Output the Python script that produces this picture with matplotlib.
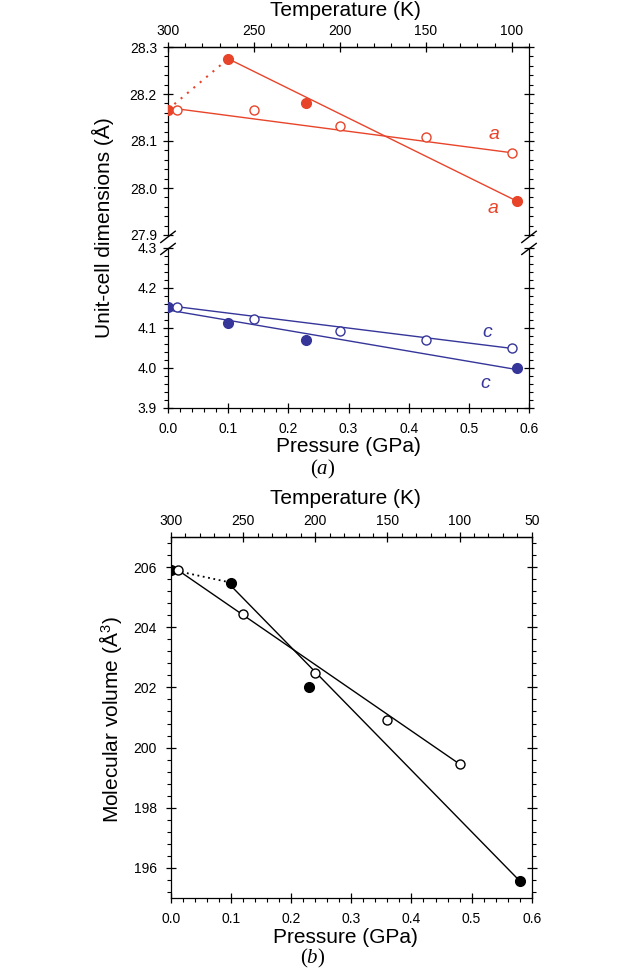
import matplotlib
matplotlib.use('Agg')
import matplotlib.pyplot as plt
from matplotlib.ticker import MultipleLocator, FormatStrFormatter

plt.rcParams['font.family'] = 'Liberation Sans'
plt.rcParams['mathtext.fontset'] = 'custom'
plt.rcParams['mathtext.rm'] = 'Liberation Sans'
plt.rcParams['mathtext.it'] = 'Liberation Serif:italic'

RED = '#E8442A'
BLUE = '#35359A'

# (a) unit-cell dimensions: filled = pressure runs, open = temperature runs
p_fill = [0.0, 0.10, 0.23, 0.58]
p_fill_err = [0.005, 0.005, 0.006, 0.006]
a_fill = [28.167, 28.275, 28.180, 27.972]
a_fill_err = [0.003, 0.003, 0.003, 0.003]
c_fill = [4.152, 4.112, 4.070, 3.999]
t_open = [295, 250, 200, 150, 100]
a_open = [28.167, 28.166, 28.132, 28.108, 28.075]
c_open = [4.153, 4.123, 4.093, 4.070, 4.049]
# straight lines through the data
a_fill_line_p = [0.10, 0.58]
a_fill_line = [28.275, 27.972]
c_fill_line_p = [0.0, 0.58]
c_fill_line = [4.145, 3.996]
open_line_t = [300, 100]
a_open_line = [28.171, 28.075]
c_open_line = [4.156, 4.049]

# (b) molecular volume
v_p_fill = [0.0, 0.10, 0.23, 0.58]
v_p_err = [0.006, 0.006, 0.006, 0.006]
v_fill = [205.92, 205.49, 202.01, 195.56]
v_fill_err = [0.08, 0.08, 0.08, 0.08]
v_t_open = [295, 250, 200, 150, 100]
v_open = [205.90, 204.45, 202.48, 200.92, 199.45]
v_fill_line_p = [0.10, 0.58]
v_fill_line = [205.38, 195.56]
v_open_line_t = [295, 100]
v_open_line = [205.90, 199.45]

W, H = 640, 968
fig = plt.figure(figsize=(W / 100, H / 100), dpi=100)


def style(ax, ypad=4.5, xpad=6.5):
    ax.tick_params(which='major', direction='inout', length=7, width=0.9,
                   labelsize=10, right=True, top=False, pad=ypad)
    ax.tick_params(which='minor', direction='out', length=3, width=0.8,
                   right=True, top=False)
    ax.tick_params(axis='x', which='major', pad=xpad)
    for s in ax.spines.values():
        s.set_linewidth(0.9)


def temp_twin(ax, tlim, show=True):
    # temperature scale on top; twiny() resets the host ticks, so style after
    tw = ax.twiny()
    tw.set_xlim(*tlim)
    tw.xaxis.set_major_locator(MultipleLocator(50))
    tw.xaxis.set_minor_locator(MultipleLocator(10))
    tw.tick_params(which='major', direction='inout', length=7, width=0.9,
                   labelsize=10, pad=3)
    tw.tick_params(which='minor', direction='out', length=3, width=0.8)
    for s in tw.spines.values():
        s.set_visible(False)
    if show:
        tw.spines['top'].set_visible(True)
        tw.spines['top'].set_linewidth(0.9)
    else:
        tw.xaxis.set_visible(False)
    return tw


# ---------- panel (a) ----------
ax_up = fig.add_axes([168 / W, 1 - 235 / H, 361 / W, 188 / H])
ax_lo = fig.add_axes([168 / W, 1 - 408 / H, 361 / W, 160 / H])
tw_up = temp_twin(ax_up, (300, 90), show=True)
tw_lo = temp_twin(ax_lo, (300, 90), show=False)

for ax in (ax_up, ax_lo):
    style(ax)
    ax.set_xlim(0, 0.6)
    ax.xaxis.set_major_locator(MultipleLocator(0.1))
    ax.xaxis.set_minor_locator(MultipleLocator(0.02))
    ax.yaxis.set_major_locator(MultipleLocator(0.1))
    ax.yaxis.set_minor_locator(MultipleLocator(0.02))
    ax.yaxis.set_major_formatter(FormatStrFormatter('%.1f'))

ax_up.set_ylim(27.9, 28.3)
ax_lo.set_ylim(3.9, 4.3)
ax_up.spines['bottom'].set_visible(False)
ax_up.tick_params(axis='x', which='both', bottom=False, labelbottom=False)
ax_lo.spines['top'].set_visible(False)
ax_lo.xaxis.set_major_formatter(FormatStrFormatter('%.1f'))

# a axis
ax_up.plot(p_fill[:2], a_fill[:2], color=RED, lw=1.5, ls=(0, (1, 3)))
ax_up.plot(a_fill_line_p, a_fill_line, color=RED, lw=1)
ax_up.errorbar(p_fill, a_fill, xerr=p_fill_err, yerr=a_fill_err, fmt='o',
               color=RED, ms=7, elinewidth=0.8, capsize=1.5, zorder=3)
tw_up.plot(open_line_t, a_open_line, color=RED, lw=1)
tw_up.plot(t_open, a_open, 'o', mfc='white', mec=RED, mew=1, ms=6.5)

# c axis
ax_lo.plot(c_fill_line_p, c_fill_line, color=BLUE, lw=1)
ax_lo.plot(p_fill, c_fill, 'o', color=BLUE, ms=7, zorder=3)
tw_lo.plot(open_line_t, c_open_line, color=BLUE, lw=1)
tw_lo.plot(t_open, c_open, 'o', mfc='white', mec=BLUE, mew=1, ms=6.5)

ax_up.text(0.542, 28.113, 'a', color=RED, fontsize=14, style='italic',
           ha='center', va='center')
ax_up.text(0.540, 27.957, 'a', color=RED, fontsize=14, style='italic',
           ha='center', va='center')
ax_lo.text(0.530, 4.088, 'c', color=BLUE, fontsize=14, style='italic',
           ha='center', va='center')
ax_lo.text(0.527, 3.960, 'c', color=BLUE, fontsize=14, style='italic',
           ha='center', va='center')

# break marks
dx, dy = 0.02, 0.03
for x0 in (0, 1):
    ax_up.plot([x0 - dx, x0 + dx], [-0.01 - dy, -0.01 + dy], color='k', lw=1,
               transform=ax_up.transAxes, clip_on=False)
    ax_lo.plot([x0 - dx, x0 + dx], [0.994 - dy * 1.15, 0.994 + dy * 1.15],
               color='k', lw=1, transform=ax_lo.transAxes, clip_on=False)

fig.text(345 / W, 1 - 10 / H, 'Temperature (K)', ha='center', va='center',
         fontsize=15)
fig.text(348 / W, 1 - 446.5 / H, 'Pressure (GPa)', ha='center', va='center',
         fontsize=15)
fig.text(103 / W, 1 - 228 / H, 'Unit-cell dimensions (Å)', ha='center',
         va='center', rotation=90, fontsize=15)
fig.text(322.7 / W, 1 - 469.5 / H, '($a$)', ha='center', va='center',
         fontsize=15, family='Liberation Serif')

# ---------- panel (b) ----------
ax_b = fig.add_axes([171 / W, 1 - 897.7 / H, 360.7 / W, 360.4 / H])
tw_b = temp_twin(ax_b, (300, 50), show=True)
style(ax_b, ypad=6.5, xpad=7)
ax_b.set_xlim(0, 0.6)
ax_b.set_ylim(195, 207)
ax_b.xaxis.set_major_locator(MultipleLocator(0.1))
ax_b.xaxis.set_minor_locator(MultipleLocator(0.02))
ax_b.yaxis.set_major_locator(MultipleLocator(2))
ax_b.yaxis.set_minor_locator(MultipleLocator(0.4))
ax_b.xaxis.set_major_formatter(FormatStrFormatter('%.1f'))

ax_b.plot(v_p_fill[:2], v_fill[:2], color='k', lw=1.3, ls=(0, (1, 2)))
ax_b.plot(v_fill_line_p, v_fill_line, color='k', lw=1)
ax_b.errorbar(v_p_fill, v_fill, xerr=v_p_err, yerr=v_fill_err, fmt='o',
              color='k', ms=7, elinewidth=0.8, capsize=1.5, zorder=3)
tw_b.plot(v_open_line_t, v_open_line, color='k', lw=1)
tw_b.plot(v_t_open, v_open, 'o', mfc='white', mec='k', mew=1, ms=6.5)

fig.text(345 / W, 1 - 499 / H, 'Temperature (K)', ha='center', va='center',
         fontsize=15)
fig.text(345 / W, 1 - 937.5 / H, 'Pressure (GPa)', ha='center', va='center',
         fontsize=15)
fig.text(110 / W, 1 - 720 / H, 'Molecular volume (Å$^{3}$)', ha='center',
         va='center', rotation=90, fontsize=15)
fig.text(313 / W, 1 - 958 / H, '($b$)', ha='center', va='center',
         fontsize=15, family='Liberation Serif')

fig.savefig('out.png', dpi=100)
